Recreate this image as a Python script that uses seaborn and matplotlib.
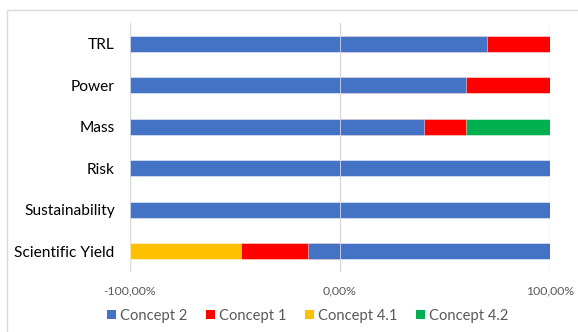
import numpy as np
import pandas as pd
import matplotlib
matplotlib.use("Agg")
import matplotlib.pyplot as plt
from matplotlib.patches import Patch, Rectangle
import seaborn as sns

categories = ["TRL", "Power", "Mass", "Risk", "Sustainability", "Scientific Yield"]
series_names = ["Concept 2", "Concept 1", "Concept 4.1", "Concept 4.2"]
series_colors = ["#4472C4", "#FF0000", "#FFC000", "#00B050"]

# values as fractions; negative parts stack leftward from 0, positive parts rightward
concept2_neg = [-1.00, -1.00, -1.00, -1.00, -1.00, -0.151]
concept2_pos = [0.70, 0.60, 0.40, 1.00, 1.00, 1.00]
concept1 = [0.30, 0.40, 0.20, 0.00, 0.00, -0.322]
concept41 = [0.00, 0.00, 0.00, 0.00, 0.00, -0.527]
concept42 = [0.00, 0.00, 0.40, 0.00, 0.00, 0.00]

tick_values = [-1.0, 0.0, 1.0]
tick_labels = ["-100,00%", "0,00%", "100,00%"]

sns.set_theme(style="white")
plt.rcParams["font.family"] = ["Lato", "DejaVu Sans"]

fig = plt.figure(figsize=(5.78, 3.32), dpi=100)
ax = fig.add_axes([130 / 578, 1 - 272 / 332, 420 / 578, 249 / 332])

# series in stacking order (each as list of per-category values)
stack = [
    (concept2_neg, series_colors[0]),
    (concept2_pos, series_colors[0]),
    (concept1, series_colors[1]),
    (concept41, series_colors[2]),
    (concept42, series_colors[3]),
]

vals = np.array([s[0] for s in stack])
pos = np.where(vals > 0, vals, 0).cumsum(axis=0)
neg = np.where(vals < 0, vals, 0).cumsum(axis=0)

# draw cumulative bars from largest to smallest so each visible segment keeps its series colour
for i in range(len(stack) - 1, -1, -1):
    color = stack[i][1]
    for cum, raw in ((pos, vals > 0), (neg, vals < 0)):
        mask = raw[i]
        if not mask.any():
            continue
        df = pd.DataFrame({"category": np.array(categories)[mask], "value": cum[i][mask]})
        sns.barplot(data=df, x="value", y="category", order=categories, orient="h",
                    color=color, saturation=1, width=0.39, ax=ax,
                    edgecolor=(1, 1, 1, 0.55), linewidth=0.6, zorder=2)

ax.set_xlim(-1.0, 1.0)
ax.set_ylim(5.5, -0.5)
ax.set_xticks(tick_values)
ax.set_xticklabels(tick_labels)
ax.set_xlabel("")
ax.set_ylabel("")
for v in tick_values:
    ax.axvline(v, color="#D9D9D9", linewidth=1.0, zorder=1)
for s in ax.spines.values():
    s.set_visible(False)
ax.tick_params(axis="x", length=0, pad=10, labelsize=8.8, labelcolor="#595959")
ax.tick_params(axis="y", length=0, pad=11, labelsize=11.2, labelcolor="#000000")

handles = [Patch(facecolor=c, edgecolor="none", label=n) for n, c in zip(series_names, series_colors)]
fig.legend(handles=handles, loc="center", bbox_to_anchor=(0.532, 1 - 316 / 332), ncol=4,
           frameon=False, fontsize=10.6, handlelength=0.6, handleheight=0.6,
           handletextpad=0.25, columnspacing=1.3, labelcolor="#595959")

fig.patches.append(Rectangle((6.5 / 578, -0.1), 1.2, 1.1 - 10.5 / 332 + 0.0, transform=fig.transFigure,
                             fill=False, edgecolor="#D9D9D9", linewidth=1.0, zorder=0))

fig.savefig("out.png", dpi=100)
